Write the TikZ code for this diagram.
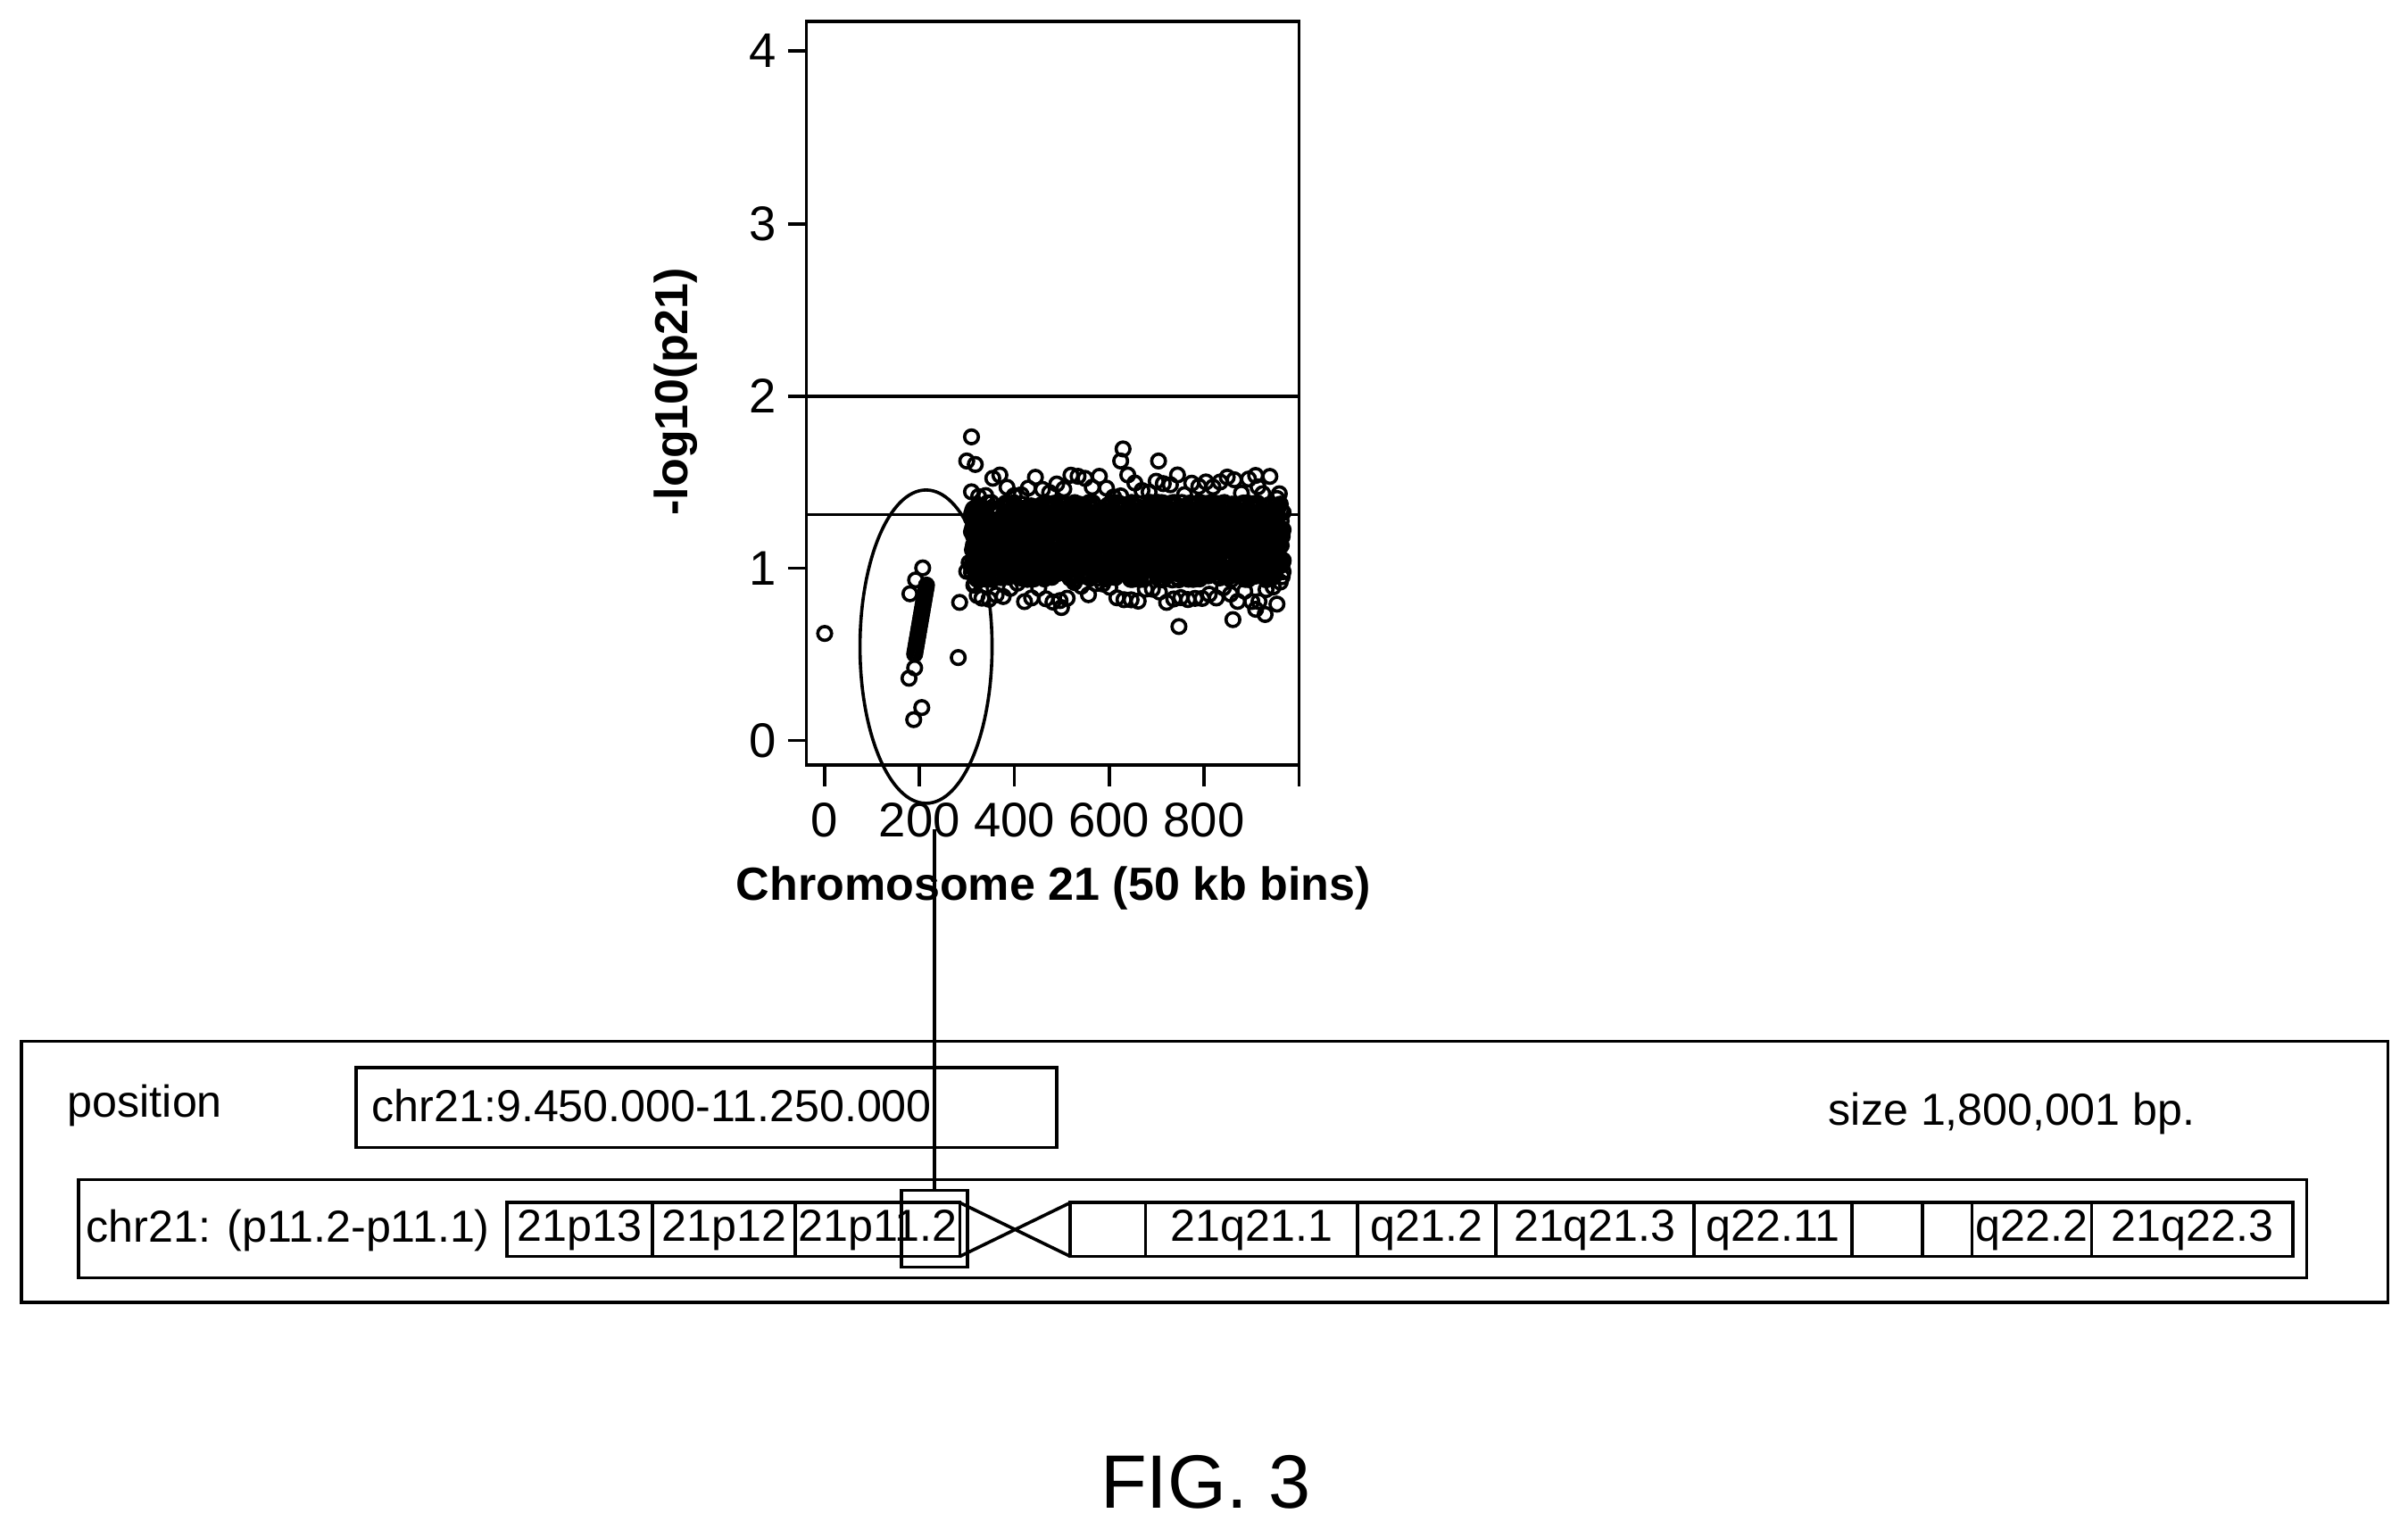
\documentclass[tikz,border=0pt]{standalone}
\usepackage{fontspec}
\setmainfont{Liberation Sans}
\usetikzlibrary{positioning}

\begin{document}
\begin{tikzpicture}[x=0.01cm, y=-0.01cm, line width=0.6pt,
    band/.style={draw, line width=0.6pt},
    bandtext/.style={font=\fontsize{8.3}{9}\selectfont, inner sep=0pt},
    ticklabel/.style={font=\fontsize{9}{10}\selectfont, inner sep=1pt},
    dot/.style={line width=0.6pt}]
        \useasboundingbox (0,0) rectangle (1568,996);

        % plot frame
        \draw (525,14) -- (525,498) -- (846,498) -- (846,14) -- cycle;
        \draw (525,258) -- (846,258);
        \draw (525,335) -- (846,335);

        % y ticks
        \foreach \v/\yy in {0/482,1/370,2/258,3/146,4/33} {
            \draw (513,\yy) -- (525,\yy);
            \node[ticklabel, anchor=east] (yt\v) at (510,\yy) {\v};
        }
        % x ticks
        \foreach \b in {0,200,400,600,800} {
            \draw ({537+\b*0.3087},498) -- ({537+\b*0.3087},512);
            \node[ticklabel, anchor=north] (xt\b) at ({537+\b*0.3087},518) {\b};
        }
        \draw (846,498) -- (846,512);

        \node[font=\bfseries\fontsize{8.6}{10}\selectfont, rotate=90] (ylab) at (440,255) {-log10(p21)};
        \node[font=\bfseries\fontsize{8.6}{10}\selectfont] (xlab) at (686,578) {Chromosome 21 (50 kb bins)};

        % data points
        \begin{scope}[shift={(537,482)}, x=0.003087cm, y=1.122cm]
            \pgfmathsetseed{21}
            \foreach \b in {310,312,...,968} {
                \foreach \k in {1,...,5} {
                    \pgfmathsetmacro\v{0.93+0.45*rnd}
                    \draw[dot] (\b,\v) circle[radius=0.045cm];
                }
            }
            \foreach \b in {310,325,...,960} {
                \pgfmathsetmacro\v{1.40+0.14*rnd}
                \draw[dot] (\b,\v) circle[radius=0.045cm];
                \pgfmathsetmacro\w{0.80+0.12*rnd}
                \draw[dot] (\b+7,\w) circle[radius=0.045cm];
            }
            \foreach \b in {190,191,...,215} {
                \pgfmathsetmacro\v{0.5+(\b-190)*0.016}
                \draw[dot] (\b,\v) circle[radius=0.045cm];
            }
            \foreach \b/\v in {0/0.62, 180/0.85, 192/0.93, 207/1.0, 178/0.36, 190/0.42,
                               188/0.12, 205/0.19, 282/0.48, 285/0.8, 300/0.98, 305/1.03,
                               315/0.9, 322/0.84, 310/1.76, 300/1.62, 318/1.6, 630/1.69,
                               625/1.62, 705/1.62, 745/1.07, 748/0.66, 862/0.7, 500/0.77,
                               910/0.76, 930/0.73, 955/0.79, 960/1.43, 915/1.47}
                \draw[dot] (\b,\v) circle[radius=0.045cm];
        \end{scope}

        % ellipse around the p-arm bins
        \draw (603,421) circle[x radius=43, y radius=102];

        % lower panel
        \draw (14,678) rectangle (1555,848);
        \node[font=\fontsize{8.3}{10}\selectfont, anchor=west, inner sep=0pt] (poslab) at (43,720) {position};
        \draw (232,695) rectangle (688,747);
        \node[font=\fontsize{8.3}{10}\selectfont, anchor=west, inner sep=2pt] (posval) at (234,720) {chr21:9.450.000-11.250.000};
        \node[font=\fontsize{8.3}{10}\selectfont] (size) at (1310,725) {size 1,800,001 bp.};

        \draw (51,768) rectangle (1502,832);
        \node[bandtext, anchor=west] (chrlab) at (55,801) {chr21: (p11.2-p11.1)};

        % bands
        \foreach \a/\b/\t in {330/425/21p13, 425/518/21p12, 518/625/21p11.2,
                              697/746/{}, 746/884/21q21.1, 884/974/q21.2, 974/1103/21q21.3,
                              1103/1206/q22.11, 1206/1252/{}, 1252/1284/{}, 1284/1362/q22.2,
                              1362/1493/21q22.3} {
            \draw[band] (\a,783) rectangle (\b,818);
            \node[bandtext] at ({(\a+\b)/2},801) {\t};
        }
        % centromere
        \draw (625,783) -- (697,818) (625,818) -- (697,783);

        \node[draw, minimum width=43*0.01cm, minimum height=50*0.01cm, inner sep=0pt] (hilite) at (608.5,800) {};
        \coordinate (linetop) at (608.5,540);
        \draw (linetop) -- (hilite.north);

        \node[font=\fontsize{14}{16}\selectfont] (fig) at (785,965) {FIG. 3};
    \end{tikzpicture}
\end{document}
